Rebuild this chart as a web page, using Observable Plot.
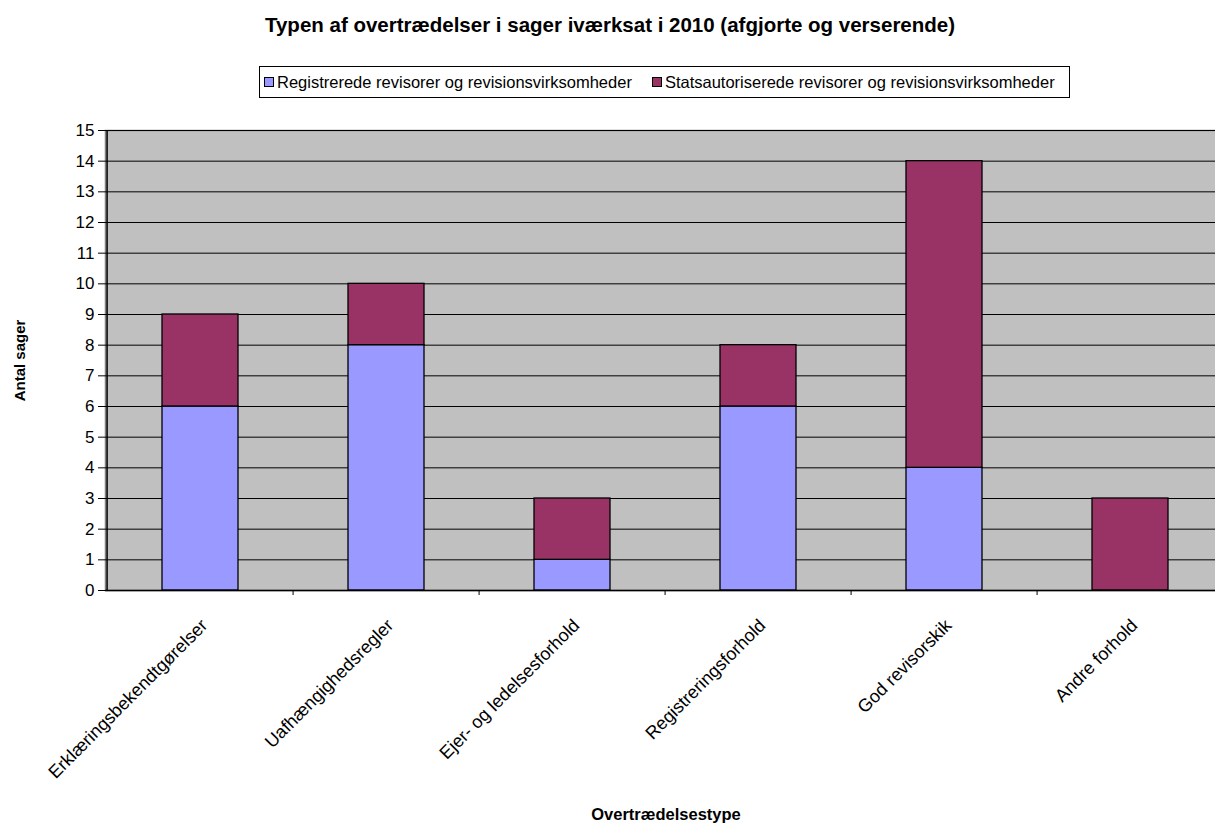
<!DOCTYPE html>
<html>
<head>
<meta charset="utf-8">
<script src="https://cdn.jsdelivr.net/npm/d3@7"></script>
<script src="https://cdn.jsdelivr.net/npm/@observablehq/plot@0.6"></script>
<style>
  html, body { margin: 0; padding: 0; background: #fff; }
  body { width: 1215px; height: 823px; overflow: hidden; position: relative; font-family: "Liberation Sans", Arial, sans-serif; }
  #title { position: absolute; top: 13px; left: 0; width: 1220px; text-align: center; font-weight: bold; font-size: 20.5px; color: #000; }
  #legend { position: absolute; left: 259px; top: 66px; width: 811px; height: 32px; border: 1px solid #000; box-sizing: border-box; display: flex; align-items: center; font-size: 16.5px; padding-left: 4px; white-space: nowrap; }
  #legend .sw { display: inline-block; width: 10px; height: 10px; border: 1px solid #000; box-sizing: border-box; margin-right: 3px; }
  #legend .item { display: flex; align-items: center; }
  #legend .item + .item { margin-left: 20px; }
  #chart { position: absolute; top: 110px; left: 0; width: 1226px; }
  #chart svg { max-width: none !important; }
</style>
</head>
<body>
<div id="title"></div>
<div id="legend"></div>
<div id="chart"></div>
<script>
const titleText = "Typen af overtrædelser i sager iværksat i 2010 (afgjorte og verserende)";
const categories = ["Erklæringsbekendtgørelser", "Uafhængighedsregler", "Ejer- og ledelsesforhold", "Registreringsforhold", "God revisorskik", "Andre forhold"];
const seriesNames = ["Registrerede revisorer og revisionsvirksomheder", "Statsautoriserede revisorer og revisionsvirksomheder"];
const registrerede = [6, 8, 1, 6, 4, 0];
const statsautoriserede = [3, 2, 2, 2, 10, 3];
const seriesColors = ["#9999ff", "#993366"];
const yTicks = [0, 1, 2, 3, 4, 5, 6, 7, 8, 9, 10, 11, 12, 13, 14, 15];
const yLabel = "Antal sager";
const xLabel = "Overtrædelsestype";

document.getElementById("title").textContent = titleText;
const legend = document.getElementById("legend");
seriesNames.forEach((name, i) => {
  const item = document.createElement("span");
  item.className = "item";
  const sw = document.createElement("span");
  sw.className = "sw";
  sw.style.background = seriesColors[i];
  const t = document.createElement("span");
  t.textContent = name;
  item.appendChild(sw);
  item.appendChild(t);
  legend.appendChild(item);
});

const table = [];
categories.forEach((c, i) => {
  table.push({cat: c, series: seriesNames[0], value: registrerede[i]});
  table.push({cat: c, series: seriesNames[1], value: statsautoriserede[i]});
});

const W = 1226, H = 713, mL = 105, mR = 0, mT = 20, mB = 233;
const step = (W - mL - mR) / categories.length;

const chart = Plot.plot({
  width: W,
  height: H,
  marginLeft: mL,
  marginRight: mR,
  marginTop: mT,
  marginBottom: mB,
  style: { fontFamily: "'Liberation Sans', Arial, sans-serif", background: "transparent", color: "#000", maxWidth: "none" },
  x: { domain: categories, paddingInner: 0.59, paddingOuter: 0.295, label: null },
  y: { domain: [0, 15], label: null },
  color: { domain: seriesNames, range: seriesColors },
  marks: [
    Plot.frame({ fill: "#c0c0c0", stroke: "#808080", strokeWidth: 1.5 }),
    Plot.ruleY(yTicks.slice(1), { stroke: "#000", strokeWidth: 1 }),
    Plot.barY(table, { x: "cat", y: "value", fill: "series", stroke: "#000", strokeWidth: 1.3, order: seriesNames }),
    Plot.ruleY([0], { stroke: "#000", strokeWidth: 1.5 }),
    Plot.ruleX([categories[0]], { dx: -step / 2, stroke: "#000", strokeWidth: 1.5 }),
    Plot.axisY({ ticks: yTicks, tickSize: 7, tickPadding: 4, fontSize: 17, label: null, stroke: "#000" }),
    Plot.axisX({ ticks: categories.slice(1), tickSize: 5, dx: -step / 2, tickFormat: () => "", label: null, stroke: "#000" }),
    Plot.axisX({ tickSize: 0, tickRotate: -45, tickPadding: 32, dx: 4, fontSize: 18, label: null }),
    Plot.text([yLabel], { frameAnchor: "left", dx: -85, rotate: -90, textAnchor: "middle", fontWeight: "bold", fontSize: 15, style: "letter-spacing:2px" }),
    Plot.text([xLabel], { frameAnchor: "bottom", dy: 224, lineAnchor: "middle", fontWeight: "bold", fontSize: 16.5 })
  ]
});
document.getElementById("chart").appendChild(chart);
</script>
</body>
</html>
